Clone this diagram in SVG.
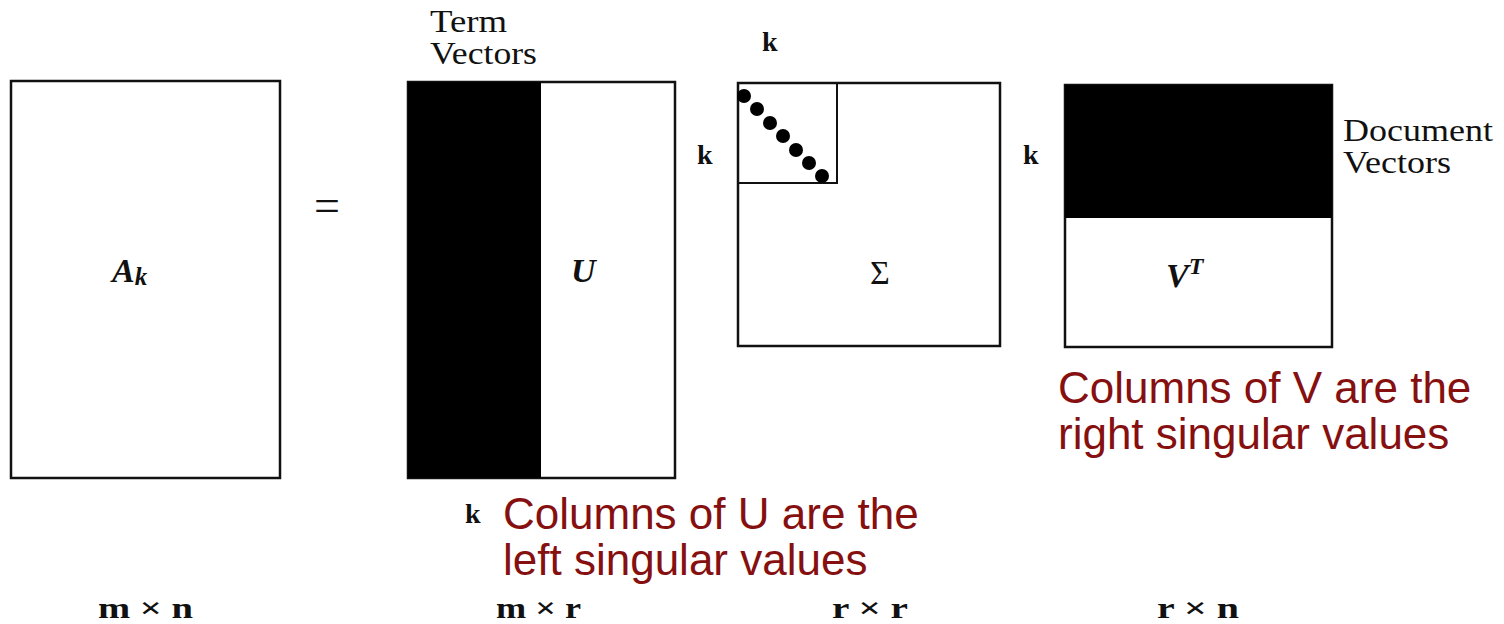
<svg xmlns="http://www.w3.org/2000/svg" width="1504" height="624" viewBox="0 0 1504 624">
<style>
.box{fill:#fff;stroke:#111;stroke-width:2.5}
.blk{fill:#000}
.lbl{font-family:"Liberation Serif",serif;font-size:31px;fill:#111}
.k{font-family:"Liberation Serif",serif;font-size:28px;font-weight:bold;fill:#111}
.math{font-family:"Liberation Serif",serif;font-size:34px;font-style:italic;font-weight:bold;fill:#111}
.dim{font-family:"Liberation Serif",serif;font-size:29px;font-weight:bold;fill:#111}
.red{font-family:"Liberation Sans",Arial,sans-serif;font-size:44px;fill:#861010}
</style>
<rect width="1504" height="624" fill="#fff"/>
<g id="Ak">
<rect class="box" x="11" y="81" width="269" height="397" stroke-width="3"/>
<text class="math" x="112" y="282">A<tspan font-size="25" dy="3">k</tspan></text>
</g>
<g id="equals">
<text x="327" y="221" font-family="Liberation Serif,serif" font-size="46" text-anchor="middle" fill="#111">=</text>
</g>
<g id="U">
<rect class="box" x="408" y="82" width="267" height="396"/>
<rect class="blk" x="408" y="82" width="133" height="396"/>
<text class="lbl" x="430" y="32" textLength="77" lengthAdjust="spacingAndGlyphs">Term</text>
<text class="lbl" x="430" y="64" textLength="107" lengthAdjust="spacingAndGlyphs">Vectors</text>
<text class="math" x="571" y="282" font-weight="normal">U</text>
</g>
<g id="Sigma">
<rect class="box" x="738" y="83" width="262" height="263"/>
<rect x="738" y="83" width="99" height="100" fill="none" stroke="#111" stroke-width="2"/>
<g fill="#000">
<circle cx="744" cy="96" r="7"/>
<circle cx="757" cy="109" r="7"/>
<circle cx="770" cy="123" r="7"/>
<circle cx="783" cy="136" r="7"/>
<circle cx="796" cy="150" r="7"/>
<circle cx="809" cy="163" r="7"/>
<circle cx="822" cy="176" r="7"/>
</g>
<text class="k" x="762" y="51">k</text>
<text class="k" x="697" y="164">k</text>
<text x="880" y="284" font-family="Liberation Serif,serif" font-size="34" text-anchor="middle" fill="#111">Σ</text>
</g>
<g id="VT">
<rect class="box" x="1065" y="85" width="267" height="262"/>
<rect class="blk" x="1065" y="85" width="267" height="133"/>
<text class="k" x="1023" y="164">k</text>
<text class="lbl" x="1343" y="141" textLength="150" lengthAdjust="spacingAndGlyphs">Document</text>
<text class="lbl" x="1343" y="173" textLength="108" lengthAdjust="spacingAndGlyphs">Vectors</text>
<text class="math" x="1166" y="287" font-weight="normal">V<tspan font-size="24" dy="-13">T</tspan></text>
</g>
<g id="notes">
<text class="k" x="465" y="523">k</text>
<text class="red" x="503" y="529">Columns of U are the</text>
<text class="red" x="503" y="575">left singular values</text>
<text class="red" x="1058" y="403">Columns of V are the</text>
<text class="red" x="1058" y="449">right singular values</text>
</g>
<g id="dims">
<text class="dim" x="98" y="618" textLength="95" lengthAdjust="spacingAndGlyphs">m × n</text>
<text class="dim" x="496" y="618" textLength="85" lengthAdjust="spacingAndGlyphs">m × r</text>
<text class="dim" x="832" y="618" textLength="76" lengthAdjust="spacingAndGlyphs">r × r</text>
<text class="dim" x="1157" y="618" textLength="82" lengthAdjust="spacingAndGlyphs">r × n</text>
</g>
<g id="connectors"></g>
</svg>
